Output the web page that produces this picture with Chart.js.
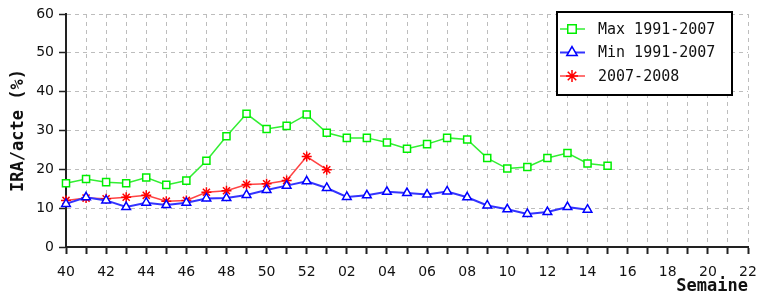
<!DOCTYPE html>
<html>
<head>
<meta charset="utf-8">
<script src="https://cdn.jsdelivr.net/npm/chart.js@4.4.0/dist/chart.umd.min.js"></script>
<style>
html, body { margin: 0; padding: 0; background: #fff; }
</style>
</head>
<body>
<canvas id="chart" width="772" height="297"></canvas>
<script>
const weeks = ['40', '41', '42', '43', '44', '45', '46', '47', '48', '49', '50', '51', '52',
    '01', '02', '03', '04', '05', '06', '07', '08', '09', '10', '11', '12', '13', '14', '15',
    '16', '17', '18', '19', '20', '21', '22'];
const maxValues = [16.4, 17.5, 16.7, 16.4, 17.9, 16.0, 17.1, 22.2, 28.5, 34.3, 30.4, 31.2, 34.1,
    29.4, 28.1, 28.1, 26.9, 25.3, 26.5, 28.1, 27.7, 22.9, 20.2, 20.6, 22.9, 24.2, 21.5, 20.9];
const minValues = [11.1, 12.8, 12.0, 10.3, 11.4, 10.8, 11.4, 12.5, 12.6, 13.4, 14.7, 15.8, 16.9,
    15.2, 12.9, 13.3, 14.2, 13.9, 13.5, 14.3, 12.8, 10.7, 9.7, 8.5, 9.0, 10.3, 9.6];
const currentValues = [12.0, 12.6, 12.4, 12.8, 13.3, 11.8, 12.0, 14.1, 14.5, 16.1, 16.3, 17.1, 23.3, 19.9];
const seriesNames = ['Max 1991-2007', 'Min 1991-2007', '2007-2008'];

const gridColor = '#bdbdbd';
const axisColor = '#222';

// legend drawn as a boxed list like the original
const boxLegend = {
    id: 'boxLegend',
    afterDraw(chart) {
        const ctx = chart.ctx;
        const x = 557, y = 12, w = 175, h = 83;
        ctx.save();
        ctx.fillStyle = '#fff';
        ctx.fillRect(x, y, w, h);
        ctx.strokeStyle = '#000';
        ctx.lineWidth = 2;
        ctx.strokeRect(x, y, w, h);
        chart.data.datasets.forEach((ds, i) => {
            const cy = y + 17 + i * 23.5;
            ctx.strokeStyle = ds.borderColor;
            ctx.lineWidth = ds.borderWidth;
            ctx.beginPath();
            ctx.moveTo(560, cy);
            ctx.lineTo(585, cy);
            ctx.stroke();
            ctx.fillStyle = ds.pointBackgroundColor;
            ctx.strokeStyle = ds.pointBorderColor;
            ctx.lineWidth = ds.pointBorderWidth;
            Chart.helpers.drawPoint(ctx, {
                pointStyle: ds.pointStyle,
                radius: ds.pointRadius + 1,
                borderWidth: ds.pointBorderWidth,
                rotation: 0
            }, 572, cy);
            ctx.fillStyle = '#111';
            ctx.font = '15px "DejaVu Sans Mono"';
            ctx.textBaseline = 'middle';
            ctx.fillText(ds.label, 598, cy + 1);
        });
        ctx.restore();
    }
};

new Chart(document.querySelector('#chart'), {
    type: 'line',
    data: {
        labels: weeks,
        datasets: [{
            label: seriesNames[0],
            data: maxValues,
            borderColor: '#33ee33',
            borderWidth: 1.5,
            pointStyle: 'rect',
            pointRadius: 5,
            pointBorderWidth: 1.5,
            pointBorderColor: '#00ee00',
            pointBackgroundColor: '#fff',
            tension: 0
        }, {
            label: seriesNames[1],
            data: minValues,
            borderColor: '#3333ff',
            borderWidth: 2,
            pointStyle: 'triangle',
            pointRadius: 5,
            pointBorderWidth: 1.5,
            pointBorderColor: '#0000ff',
            pointBackgroundColor: '#fff',
            tension: 0
        }, {
            label: seriesNames[2],
            data: currentValues,
            borderColor: '#ff4444',
            borderWidth: 1.5,
            pointStyle: 'star',
            pointRadius: 5,
            pointBorderWidth: 1.5,
            pointBorderColor: '#ff0000',
            pointBackgroundColor: '#ff0000',
            tension: 0
        }]
    },
    options: {
        responsive: false,
        animation: false,
        devicePixelRatio: 1,
        layout: { padding: { top: 14, right: 24, left: 0, bottom: 0 } },
        plugins: {
            legend: { display: false },
            tooltip: { enabled: false }
        },
        scales: {
            x: {
                offset: false,
                grid: {
                    offset: false,
                    color: (c) => c.index === 0 ? 'rgba(0,0,0,0)' : gridColor,
                    tickColor: axisColor,
                    tickLength: 7,
                    tickWidth: 2
                },
                border: { color: axisColor, width: 2, dash: [4, 4] },
                ticks: {
                    autoSkip: false,
                    maxRotation: 0,
                    padding: 10,
                    color: '#111',
                    font: { family: 'DejaVu Sans', size: 14 },
                    callback: (v, i) => i % 2 === 0 ? weeks[i] : ''
                },
                title: {
                    display: true,
                    text: 'Semaine',
                    align: 'end',
                    color: '#111',
                    font: { family: 'DejaVu Sans Mono', size: 17, weight: 'bold' },
                    padding: { top: -10, bottom: 0 }
                },
                afterFit: (scale) => { scale.height = 50; }
            },
            y: {
                min: 0,
                max: 60,
                ticks: {
                    stepSize: 5,
                    padding: 5,
                    color: '#111',
                    font: { family: 'DejaVu Sans', size: 14 },
                    callback: (v) => v % 10 === 0 ? v : ''
                },
                grid: {
                    color: (c) => (c.tick && c.tick.value % 10 === 0 && c.tick.value !== 0) ? gridColor : 'rgba(0,0,0,0)',
                    tickColor: axisColor,
                    tickLength: 7,
                    tickWidth: 1.5
                },
                border: { color: axisColor, width: 2, dash: [4, 4] },
                title: {
                    display: true,
                    text: 'IRA/acte (%)',
                    color: '#111',
                    font: { family: 'DejaVu Sans Mono', size: 17, weight: 'bold' },
                    padding: { top: 8, bottom: 0 }
                },
                afterFit: (scale) => { scale.width = 66; }
            }
        }
    },
    plugins: [boxLegend]
});
</script>
</body>
</html>
